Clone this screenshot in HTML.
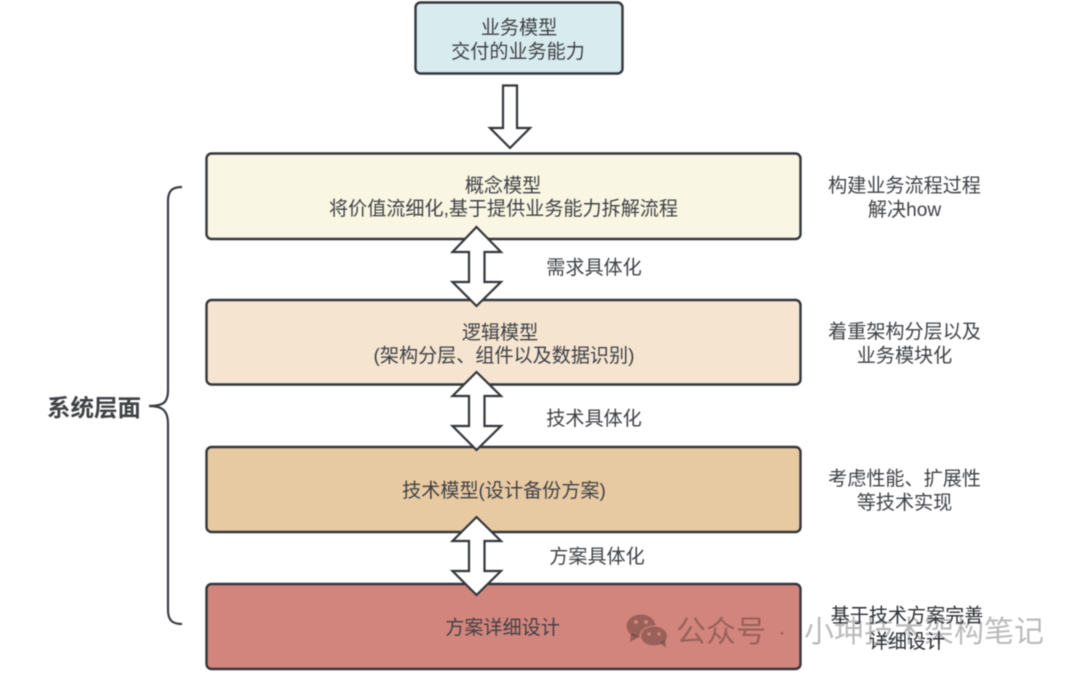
<!DOCTYPE html>
<html><head><meta charset="utf-8">
<style>
html,body{margin:0;padding:0;background:#fff}
svg{display:block;filter:blur(.4px)}
text{font-family:"Liberation Sans","Noto Sans CJK SC",sans-serif;font-size:19.1px;fill:#3f4145;text-anchor:middle}
.wm{font-size:30px;fill:#000;fill-opacity:.27}
</style></head>
<body>
<svg width="1080" height="676" viewBox="0 0 1080 676" xmlns="http://www.w3.org/2000/svg">
<g stroke="#33363b" stroke-width="2.4" stroke-linejoin="round">
<rect x="415.5" y="2.5" width="207" height="71" rx="5" fill="#d8ecf0"/>
<rect x="206.5" y="153.5" width="594" height="85.5" rx="5" fill="#f9f6e3"/>
<rect x="206.5" y="300" width="594" height="84.5" rx="5" fill="#f4e4d0"/>
<rect x="206.5" y="447" width="594" height="85" rx="5" fill="#e8caa2"/>
<rect x="206.5" y="584" width="594" height="85" rx="5" fill="#d2857c"/>
</g>
<g fill="#fff" stroke="#33363b" stroke-width="2.2" stroke-linejoin="miter">
<path d="M503 85.5H517V128H530L510 148L490 128H503Z"/>
<path d="M476.5 227L501 252H484.500V282H501L476.5 306L452.5 282H469V252H452.5Z"/>
<path d="M476.5 372L501 396H484.500V426H501L476.5 450L452.5 426H469V396H452.5Z"/>
<path d="M476.5 517L501 541H484.500V571H501L476.5 595L452.5 571H469V541H452.5Z"/>
</g>
<path d="M182 187C172 187 168 191 168 201V390C168 402 164 406 149 406C164 406 168 412 168 424V610C168 620 172 624 182 624" fill="none" stroke="#3a3d42" stroke-width="2.2"/>
<text x="519" y="34">业务模型</text>
<text x="518" y="58">交付的业务能力</text>
<text x="503" y="192">概念模型</text>
<text x="503.500" y="215">将价值流细化,基于提供业务能力拆解流程</text>
<text x="500" y="339">逻辑模型</text>
<text x="504" y="362">(架构分层、组件以及数据识别)</text>
<text x="504" y="497">技术模型(设计备份方案)</text>
<text x="502.500" y="634">方案详细设计</text>
<text x="594" y="274">需求具体化</text>
<text x="594" y="425">技术具体化</text>
<text x="597" y="563">方案具体化</text>
<text x="904.500" y="192">构建业务流程过程</text>
<text x="904.500" y="216">解决how</text>
<text x="904.500" y="338">着重架构分层以及</text>
<text x="904.500" y="362">业务模块化</text>
<text x="904.500" y="485">考虑性能、扩展性</text>
<text x="904.500" y="509">等技术实现</text>
<text x="94" y="416" style="font-weight:bold;font-size:23.500px">系统层面</text>
<g fill="#000" fill-opacity=".27">
<ellipse cx="641" cy="626" rx="14.5" ry="11.5"/>
<path d="M631 633L630 642L639 637Z"/>
</g>
<ellipse cx="654" cy="636" rx="14.5" ry="10.5" fill="#d2857c"/>
<g fill="#000" fill-opacity=".27">
<ellipse cx="654" cy="636" rx="13" ry="9.5"/>
<path d="M660 643L666 648L665 640Z"/>
</g>
<g fill="#d2857c">
<circle cx="636" cy="622" r="2"/><circle cx="646" cy="622" r="2"/>
<circle cx="649" cy="634" r="1.700"/><circle cx="659" cy="634" r="1.700"/>
</g>
<text x="721" y="642" class="wm">公众号</text>
<text x="782" y="640" class="wm" style="font-size:24px">·</text>
<text x="924" y="642" class="wm">小坤技术架构笔记</text>
<text x="907" y="622" style="fill:#2d2f33">基于技术方案完善</text>
<text x="907" y="648" style="fill:#2d2f33">详细设计</text>
</svg>
</body></html>
